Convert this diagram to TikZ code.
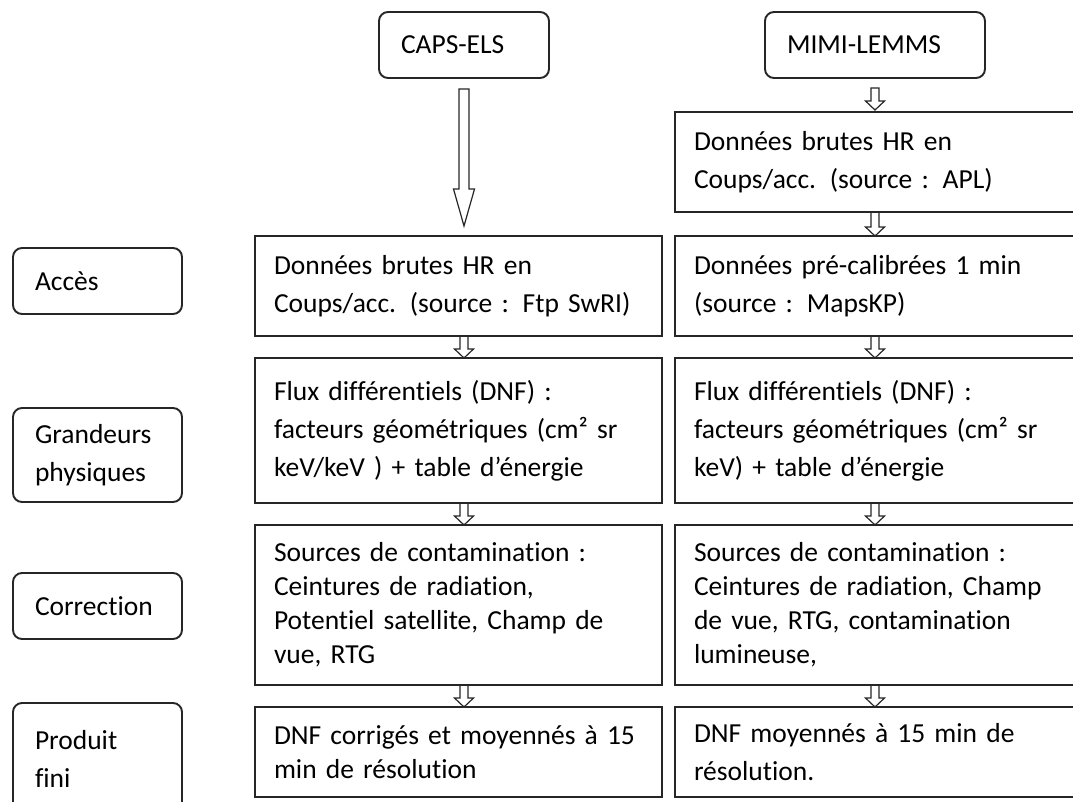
\documentclass[tikz,border=0pt]{standalone}
\usepackage{fontspec}
\setmainfont{Carlito}[Ligatures=NoCommon]
\usetikzlibrary{positioning,calc}

\begin{document}
\begin{tikzpicture}[x=1pt, y=-1pt, node distance=22pt,
  every node/.style={font=\fontsize{27.5}{38}\selectfont, text=black},
  tight/.style={font=\fontsize{27.5}{34}\selectfont},
  stage/.style={draw=black!85, line width=1.9pt, rounded corners=9pt, anchor=north west, align=left, inner xsep=22pt, outer sep=0pt, minimum height=66pt},
  databox/.style={draw=black!85, line width=1.5pt, anchor=north west, align=left, inner xsep=19pt, outer sep=0pt},
  leftbox/.style={databox, text width=369pt},
  rightbox/.style={databox, text width=382pt},
  blockarrow/.style n args={3}{draw=black!85, line width=1.2pt, to path={let \p1=(\tikztostart), \p2=(\tikztotarget) in
      (\x1-#1,\y1) -- (\x1-#1,\y2+#3) -- (\x1-#2,\y2+#3) -- (\x1,\y2) -- (\x1+#2,\y2+#3) -- (\x1+#1,\y2+#3) -- (\x1+#1,\y1) -- cycle}},
  bigarrow/.style={blockarrow={5pt}{10.5pt}{37pt}},
  smallarrow/.style={blockarrow={4pt}{9.5pt}{9pt}}]
\useasboundingbox (0,0) rectangle (1073,801);
\clip (0,0) rectangle (1073,801);

% instruments
\node[stage, text width=126pt] (caps) at (379,12) {CAPS-ELS};
\node[stage, text width=176pt] (mimi) at (765,12) {MIMI-LEMMS};

% stages
\node[stage, text width=125pt] (acces) at (13,248) {Accès};
\node[stage, text width=125pt, minimum height=94pt] (grandeurs) at (13,408) {Grandeurs\\physiques};
\node[stage, text width=125pt] (correction) at (13,573) {Correction};
\node[stage, text width=125pt, minimum height=112pt] (produit) at (13,703) {Produit\\fini};

% CAPS-ELS
\node[leftbox, minimum height=100pt] (capsraw) at (255,236) {Données brutes HR en\\Coups/acc.  (source : Ftp SwRI)};
\node[leftbox, minimum height=145pt, below=of capsraw] (capsflux) {Flux différentiels (DNF) :\\facteurs géométriques (cm² sr\\keV/keV ) +  table d’énergie};
\node[leftbox, tight, minimum height=160pt, below=of capsflux] (capscorr) {Sources de contamination :\\Ceintures de radiation,\\Potentiel satellite, Champ de\\vue, RTG};
\node[leftbox, tight, minimum height=90pt, below=of capscorr] (capsfin) {DNF corrigés et moyennés à 15\\min de résolution};

% MIMI-LEMMS
\node[rightbox, minimum height=100pt] (mimiraw) at (675,112) {Données brutes HR en\\Coups/acc. (source : APL)};
\node[rightbox, minimum height=100pt, below=24pt of mimiraw] (mimical) {Données pré-calibrées 1 min\\(source :  MapsKP)};
\node[rightbox, minimum height=145pt, below=of mimical] (mimiflux) {Flux différentiels (DNF) :\\facteurs  géométriques (cm² sr\\keV) + table d’énergie};
\node[rightbox, tight, minimum height=160pt, below=of mimiflux] (mimicorr) {Sources de contamination :\\Ceintures de radiation,  Champ\\de vue,  RTG,  contamination\\lumineuse,};
\node[rightbox, minimum height=90pt, below=of mimicorr] (mimifin) {DNF moyennés à 15 min de\\résolution.};

\draw[bigarrow] ($(caps.south)+(0,11)$) to ($(caps.south |- capsraw.north)+(0,-10)$);
\draw[smallarrow] (caps.south |- capsraw.south) to (caps.south |- capsflux.north);
\draw[smallarrow] (caps.south |- capsflux.south) to (caps.south |- capscorr.north);
\draw[smallarrow] (caps.south |- capscorr.south) to (caps.south |- capsfin.north);

\draw[smallarrow] ($(mimi.south)+(0,10)$) to ($(mimi.south |- mimiraw.north)+(0,-2)$);
\draw[smallarrow] (mimi.south |- mimiraw.south) to (mimi.south |- mimical.north);
\draw[smallarrow] (mimi.south |- mimical.south) to (mimi.south |- mimiflux.north);
\draw[smallarrow] (mimi.south |- mimiflux.south) to (mimi.south |- mimicorr.north);
\draw[smallarrow] (mimi.south |- mimicorr.south) to (mimi.south |- mimifin.north);
\end{tikzpicture}
\end{document}
